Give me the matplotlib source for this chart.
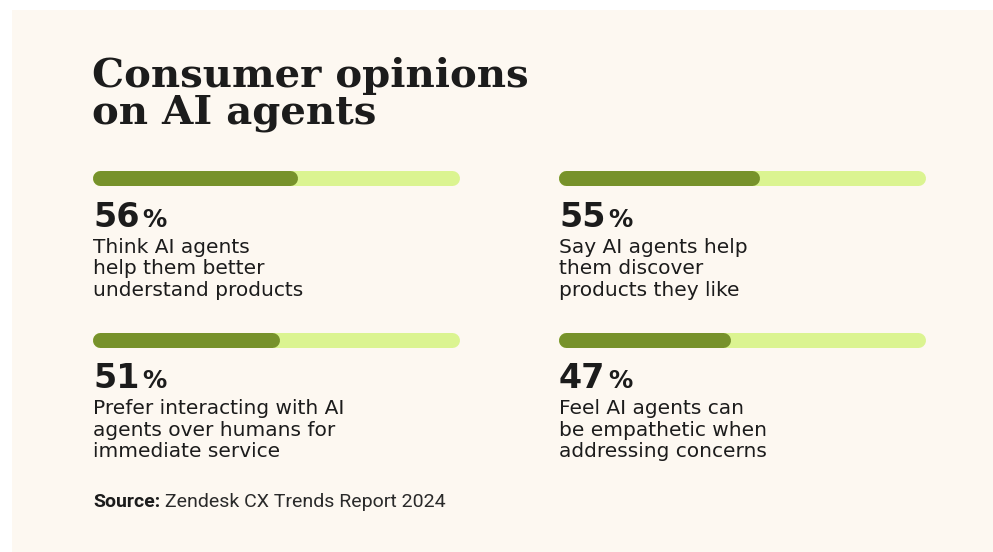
import matplotlib.pyplot as plt
from matplotlib.patches import Rectangle

# survey results (percent of consumers)
values = [56, 55, 51, 47]
descriptions = [
    ["Think AI agents", "help them better", "understand products"],
    ["Say AI agents help", "them discover", "products they like"],
    ["Prefer interacting with AI", "agents over humans for", "immediate service"],
    ["Feel AI agents can", "be empathetic when", "addressing concerns"],
]
title_lines = ["Consumer opinions", "on AI agents"]
source_label = "Source:"
source_text = "Zendesk CX Trends Report 2024"

W, H = 993, 552
BG = "#fdf8f1"
DARK = "#77922b"
LIGHT = "#dbf491"
INK = "#1c1c1c"

fig = plt.figure(figsize=(W / 100, H / 100), dpi=100)
fig.patch.set_facecolor("white")
ax = fig.add_axes([0, 0, 1, 1])
ax.set_xlim(0, W)
ax.set_ylim(H, 0)
ax.axis("off")

# cream card
ax.add_patch(Rectangle((12, 10), W - 12, H - 10, facecolor=BG, edgecolor="none", zorder=0))

# title
for i, line in enumerate(title_lines):
    ax.text(92, 87 + 37 * i, line, family="DejaVu Serif", weight="bold",
            fontsize=29, color=INK, va="baseline", ha="left")

col_x = [93, 559]
row_y = [172, 333]
bar_w, bar_h = 367, 15

for k, (val, lines) in enumerate(zip(values, descriptions)):
    x0 = col_x[k % 2]
    y0 = row_y[k // 2]

    # pill-shaped progress bar on its own 0-100 axes; round caps are
    # pulled in by the cap radius so the visible length matches the value
    bax = fig.add_axes([(x0 - 1) / W, 1 - (y0 - 1 + bar_h) / H, bar_w / W, bar_h / H])
    bax.set_xlim(0, 100)
    bax.set_ylim(0, 1)
    bax.axis("off")
    r = (bar_h / 2) / bar_w * 100
    for width, color in [(100, LIGHT), (val, DARK)]:
        bax.plot([r, width - r], [0.5, 0.5], color=color, lw=bar_h * 0.72,
                 solid_capstyle="round", clip_on=False)

    # big number with small percent sign
    num = ax.text(x0, y0 + 55, str(val), family="DejaVu Sans", weight="bold",
                  fontsize=24, color=INK, va="baseline", ha="left")
    ax.annotate("%", xy=(1, y0 + 55), xycoords=(num, "data"),
                xytext=(2, 0), textcoords="offset points",
                family="DejaVu Sans", weight="semibold", fontsize=17.5,
                color=INK, va="baseline", ha="left")

    for j, line in enumerate(lines):
        ax.text(x0, y0 + 81 + 21.5 * j, line, family="DejaVu Sans",
                fontsize=14.5, color=INK, va="baseline", ha="left")

# source note
src = ax.text(93, 507, source_label, family="Roboto", weight="bold",
              fontsize=14, color=INK, va="baseline", ha="left")
ax.annotate(" " + source_text, xy=(1, 507), xycoords=(src, "data"),
            family="Roboto", fontsize=14, color="#2a2a2a",
            va="baseline", ha="left")

fig.savefig("out.png", dpi=100, facecolor=fig.get_facecolor())
